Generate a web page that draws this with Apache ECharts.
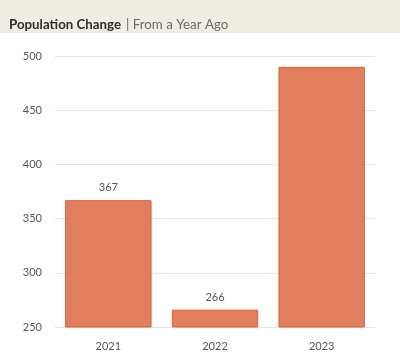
<!DOCTYPE html>
<html><head><meta charset="utf-8">
<script src="https://cdn.jsdelivr.net/npm/echarts@6/dist/echarts.min.js"></script>
<style>html,body{margin:0;padding:0;background:#fff}#c{width:400px;height:363px}</style>
</head><body><div id="c"></div>
<script>
const categories = ['2021', '2022', '2023'];
const values = [367, 266, 490];
const showLabel = [true, true, false];
const yTicks = [250, 300, 350, 400, 450, 500];

const chart = echarts.init(document.getElementById('c'), null, {renderer: 'canvas'});
chart.setOption({
  animation: false,
  graphic: [{type: 'rect', left: 0, top: 0, shape: {width: 400, height: 33}, style: {fill: '#efece4'}, z: -1}],
  title: {
    left: 4, top: 11,
    text: '{a|Population Change} {b|| From a Year Ago}',
    textStyle: {
      fontWeight: 'normal',
      rich: {
        a: {fontFamily: 'Lato', fontSize: 13.3, fontWeight: 'bold', color: '#2e2e2e'},
        b: {fontFamily: 'Lato', fontSize: 13.3, fontWeight: 'normal', color: '#6b6b6b'}
      }
    }
  },
  grid: {left: 55, right: 25, top: 56, bottom: 36},
  xAxis: {
    type: 'category', data: categories,
    axisLine: {show: false}, axisTick: {show: false},
    axisLabel: {color: '#555', fontFamily: 'Lato', fontSize: 11, margin: 14}
  },
  yAxis: {
    type: 'value', min: yTicks[0], max: yTicks[yTicks.length - 1], interval: 50,
    axisLine: {show: false}, axisTick: {show: false},
    axisLabel: {color: '#555', fontFamily: 'Lato', fontSize: 11, margin: 13},
    splitLine: {lineStyle: {color: '#e4e4e4'}}
  },
  series: [{
    type: 'bar',
    data: values.map((v, i) => ({value: v, label: {show: showLabel[i]}})),
    barCategoryGap: '19%',
    itemStyle: {color: 'rgba(222,112,76,0.9)', borderColor: '#dc5f38', borderWidth: 1},
    label: {position: 'top', distance: 7, color: '#555', fontFamily: 'Lato', fontSize: 11}
  }]
});
</script></body></html>
